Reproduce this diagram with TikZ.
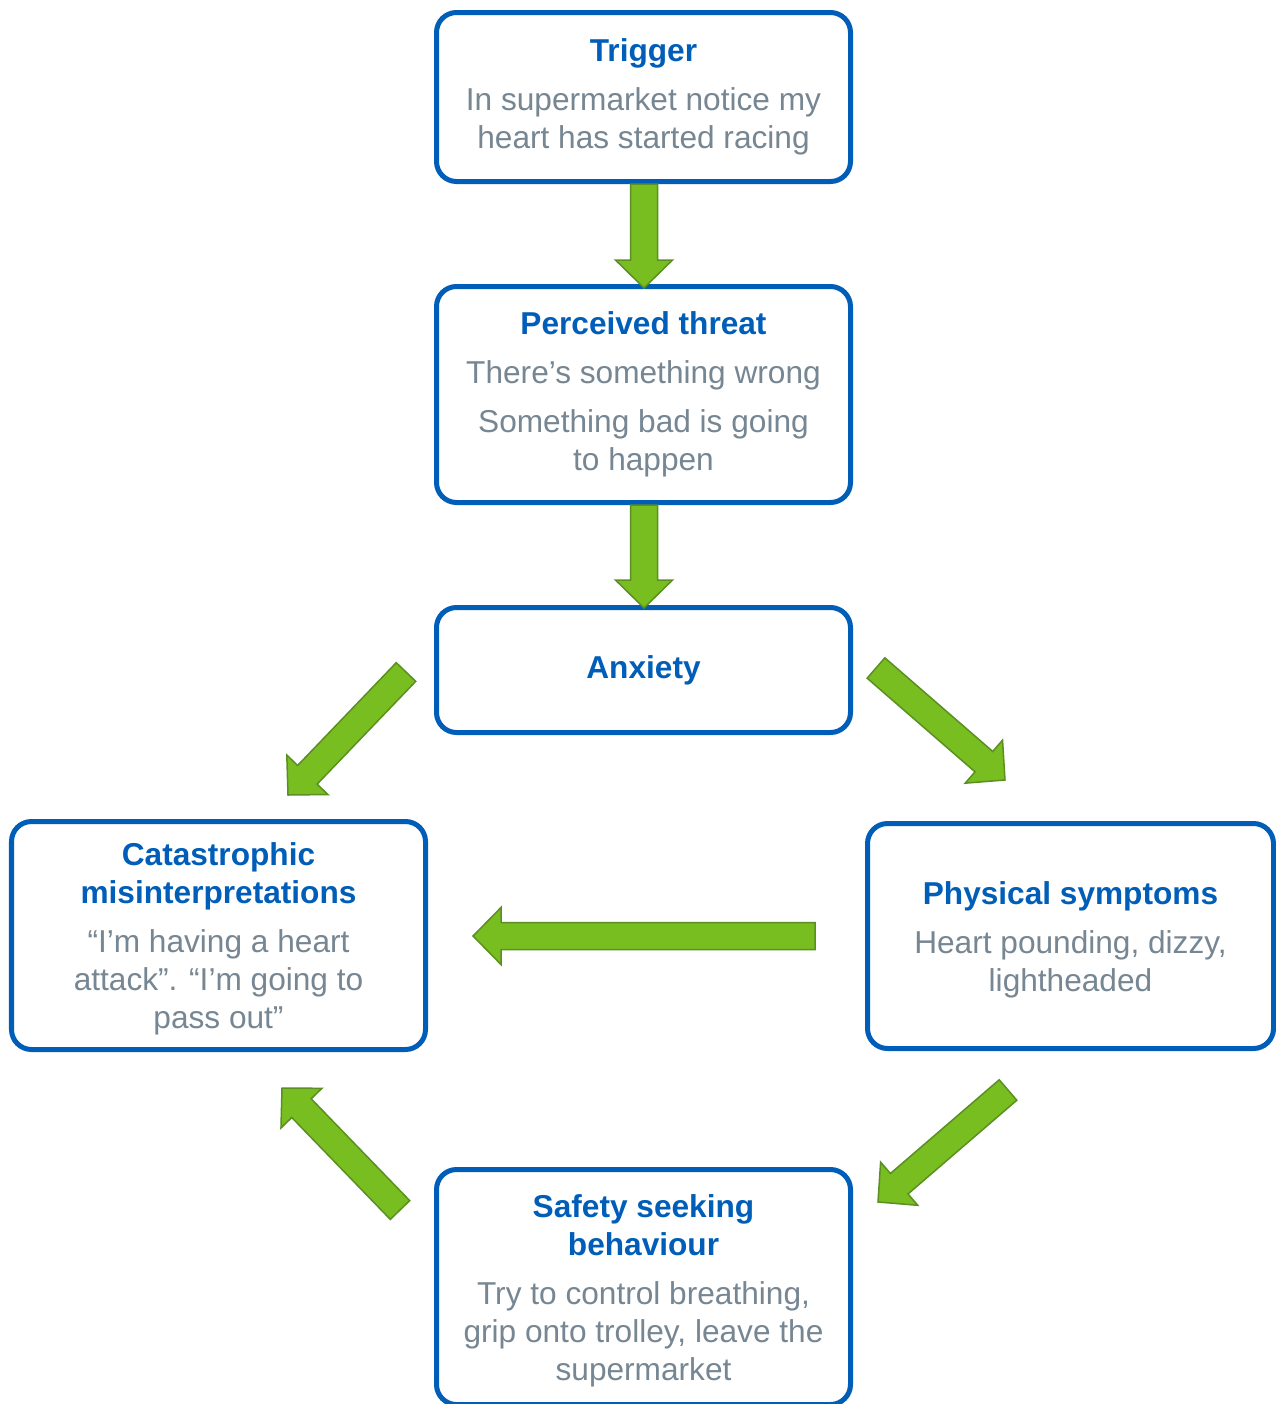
\documentclass[tikz,border=0pt]{standalone}
\usepackage{fontspec}
\setmainfont{Liberation Sans}
\usepackage{tikz}
\usetikzlibrary{calc}
\definecolor{boxblue}{HTML}{005EB8}
\definecolor{textgrey}{HTML}{768692}
\definecolor{arrowgreen}{HTML}{78BE20}
\definecolor{arrowedge}{HTML}{5B8F22}
\newcommand{\ttl}[1]{{\bfseries\color{boxblue}#1}}
\newcommand{\lowstrut}{\rule{0pt}{0.6cm}}
\newcommand{\blockarrow}[2]{%
        \coordinate (hb) at ($(#2)!0.56cm!(#1)$);
        \draw[greenarrow] ($(#1)!0.27cm!90:(#2)$) -- ($(hb)!0.27cm!90:(#2)$) -- ($(hb)!0.57cm!90:(#2)$) -- (#2)
                -- ($(hb)!0.57cm!-90:(#2)$) -- ($(hb)!0.27cm!-90:(#2)$) -- ($(#1)!0.27cm!-90:(#2)$) -- cycle;}

\begin{document}
\begin{tikzpicture}[
        box/.style={draw=boxblue, line width=0.1cm, rounded corners=0.4cm, fill=white, align=center,
                inner sep=0pt, text=textgrey, font=\fontsize{18}{21.6}\selectfont},
        greenarrow/.style={fill=arrowgreen, draw=arrowedge, line width=0.03cm, line join=miter}]
        \useasboundingbox (0cm, 0cm) rectangle (25.52cm, -28.08cm);
        \node (trig) [box, minimum width=8.28cm, minimum height=3.38cm] at (12.87cm, -1.94cm)
                {\ttl{Trigger}\\[0.22cm]In supermarket notice my\\heart has started racing};
        \node (threat) [box, minimum width=8.28cm, minimum height=4.32cm] at (12.87cm, -7.89cm)
                {\ttl{Perceived threat}\\[0.22cm]There’s something wrong\\[0.22cm]Something bad is going\\to happen};
        \node (anx) [box, minimum width=8.28cm, minimum height=2.5cm] at (12.87cm, -13.40cm)
                {\ttl{Anxiety}};
        \node (cat) [box, minimum width=8.28cm, minimum height=4.56cm] at (4.37cm, -18.71cm)
                {\lowstrut\ttl{Catastrophic}\\\ttl{misinterpretations}\\[0.22cm]“I’m having a heart\\attack”. “I’m going to\\pass out”};
        \node (phys) [box, minimum width=8.12cm, minimum height=4.5cm] at (21.41cm, -18.72cm)
                {\lowstrut\ttl{Physical symptoms}\\[0.22cm]Heart pounding, dizzy,\\lightheaded};
        \node (safe) [box, minimum width=8.28cm, minimum height=4.7cm] at (12.87cm, -25.74cm)
                {\lowstrut\ttl{Safety seeking}\\\ttl{behaviour}\\[0.22cm]Try to control breathing,\\grip onto trolley, leave the\\supermarket};
        \coordinate (s1) at (12.88cm, -3.68cm);
        \coordinate (e1) at (12.88cm, -5.76cm);
        \coordinate (s2) at (12.88cm, -10.10cm);
        \coordinate (e2) at (12.88cm, -12.16cm);
        \coordinate (s3) at (8.12cm, -13.44cm);
        \coordinate (e3) at (5.76cm, -15.90cm);
        \coordinate (s4) at (17.52cm, -13.36cm);
        \coordinate (e4) at (20.10cm, -15.60cm);
        \coordinate (s5) at (16.30cm, -18.72cm);
        \coordinate (e5) at (9.46cm, -18.72cm);
        \coordinate (s6) at (8.00cm, -24.20cm);
        \coordinate (e6) at (5.64cm, -21.76cm);
        \coordinate (s7) at (20.16cm, -21.80cm);
        \coordinate (e7) at (17.56cm, -24.04cm);
        \blockarrow{s1}{e1}
        \blockarrow{s2}{e2}
        \blockarrow{s3}{e3}
        \blockarrow{s4}{e4}
        \blockarrow{s5}{e5}
        \blockarrow{s6}{e6}
        \blockarrow{s7}{e7}
\end{tikzpicture}
\end{document}
